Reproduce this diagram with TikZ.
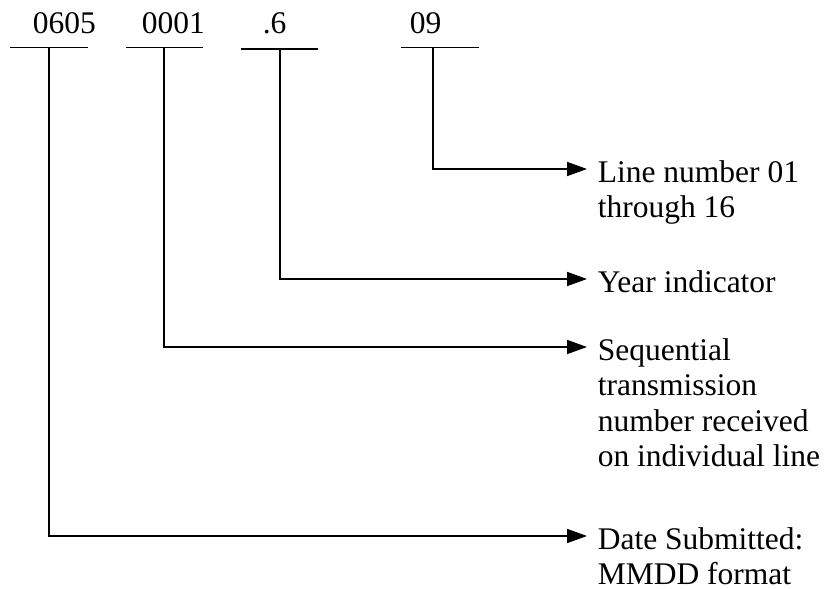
\documentclass[tikz,border=0pt]{standalone}
\usepackage{fontspec}
\setmainfont{Liberation Serif}
\usetikzlibrary{arrows.meta}
\begin{document}
\begin{tikzpicture}[x=1pt,y=-1pt, line width=1.7pt,
  lbl/.style={font=\fontsize{31.5}{35.5}\selectfont, inner sep=0pt, anchor=base west},
  desc/.style={font=\fontsize{31.5}{35.5}\selectfont, align=left, inner xsep=10pt, inner ysep=0pt, anchor=north west},
  arr/.style={-{Triangle[length=20pt,width=14pt]}},
  bar/.style={line cap=butt}]
\useasboundingbox (0,0) rectangle (828,589);
% top field labels
\node[lbl] (n1) at (32,33) {0605};
\node[lbl] (n2) at (141,33) {0001};
\node[lbl] (n3) at (262,33) {.6};
\node[lbl] (n4) at (409,33) {09};
% underline bars
\draw[bar] (10,47.5) -- (88,47.5);
\draw[bar] (126,47.5) -- (203,47.5);
\draw[bar] (241,49) -- (318,49);
\draw[bar] (401,47.5) -- (479,47.5);
\coordinate (s1) at (49,47.5);
\coordinate (s2) at (164,47.5);
\coordinate (s3) at (280,49);
\coordinate (s4) at (433,47.5);
% descriptions
\node[desc] (t4) at (587,159.5) {Line number 01\\through 16};
\node[desc] (t3) at (587,269.5) {Year indicator};
\node[desc] (t2) at (587,337.5) {Sequential\\transmission\\number received\\on individual line};
\node[desc] (t1) at (587,526.5) {Date Submitted:\\MMDD format};
% connectors
\draw[arr] (s4) |- ([yshift=-9.5pt]t4.north west);
\draw[arr] (s3) |- ([yshift=-9.5pt]t3.north west);
\draw[arr] (s2) |- ([yshift=-9.5pt]t2.north west);
\draw[arr] (s1) |- ([yshift=-9.5pt]t1.north west);
\end{tikzpicture}
\end{document}
